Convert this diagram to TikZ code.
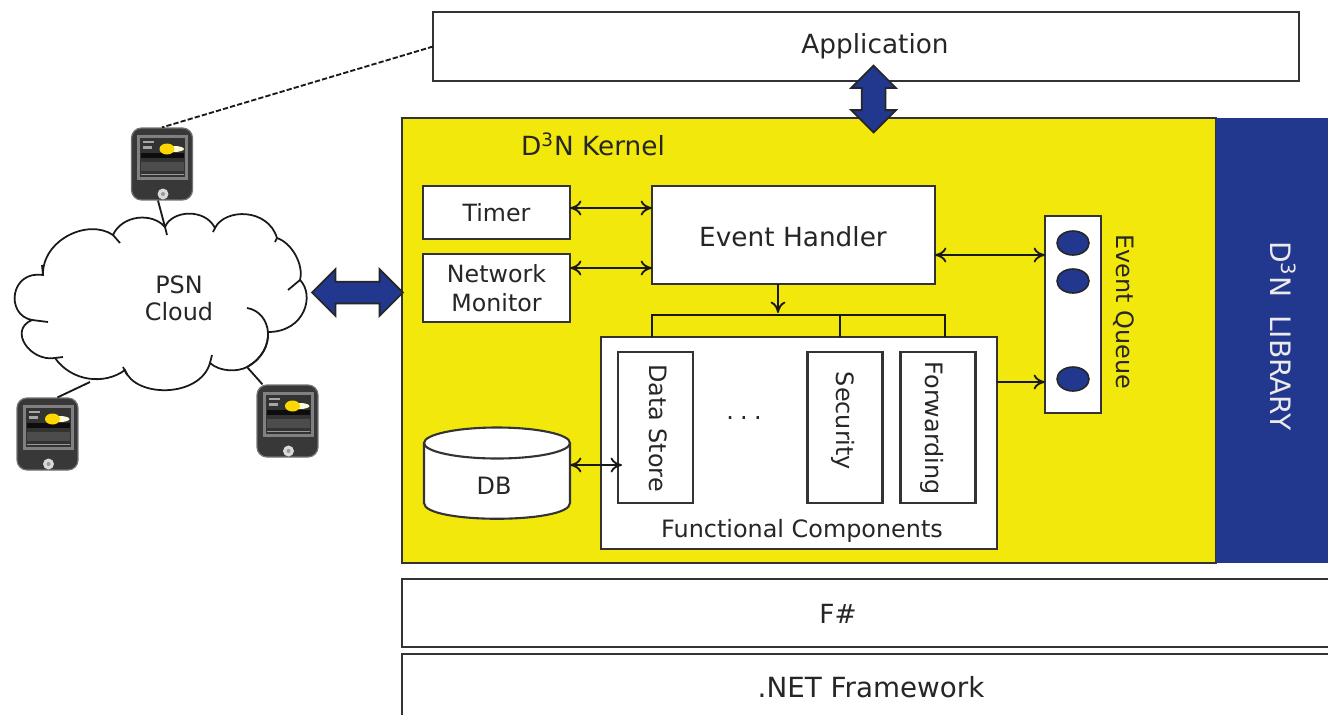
\documentclass[tikz,border=0pt]{standalone}
\usepackage{fontspec}
\setmainfont{DejaVu Sans}
\usetikzlibrary{shapes.geometric,shapes.arrows,arrows.meta}
\definecolor{kernelyellow}{HTML}{F2E80B}
\definecolor{librarynavy}{HTML}{22378E}
\tikzset{
	box/.style={draw=black!80, fill=white, line width=1.2pt, inner sep=0pt, outer sep=0pt, align=center, text=black!85, font=\fontsize{13.5}{16.5}\selectfont},
	strip/.style={box, rotate=-90, minimum width=3.02cm, minimum height=1.5cm},
	label/.style={inner sep=0pt, text=black!85, font=\fontsize{13.6}{16.5}\selectfont},
	biglabel/.style={label, font=\fontsize{15}{18}\selectfont},
	link/.style={line width=1.05pt, draw=black!90},
	cloudline/.style={line width=1pt, draw=black!90},
	fatarrow/.style={double arrow, draw=black!85, fill=librarynavy, line width=1pt, inner sep=0pt, outer sep=0pt},
	token/.style={ellipse, draw=black!85, fill=librarynavy, line width=0.9pt, minimum width=0.64cm, minimum height=0.48cm, inner sep=0pt}
}
\def\phone(#1)(#2,#3){
	\node[rectangle, rounded corners=0.2cm, fill=black!78, draw=black!55, line width=0.7pt, minimum width=1.22cm, minimum height=1.44cm, inner sep=0pt] (#1) at (#2,#3) {};
	\begin{scope}[shift={(#2,#3)}]
		\fill[black!50] (-25,-29) rectangle (26,16);
		\fill[black!80] (-22,-26) rectangle (23,13);
		\fill[black!95] (-21,-11) rectangle (22,-6);
		\fill[black!70] (-21,-2) rectangle (22,7);
		\fill[white!85!yellow] (12,-15) ellipse (10 and 3);
		\fill[yellow!75!orange] (5,-15) ellipse (7.5 and 5.5);
		\fill[black!40] (-21,10) rectangle (22,11);
		\fill[black!35] (-19,-23) rectangle (-8,-21);
		\fill[black!35] (-19,-18) rectangle (-10,-15);
		\fill[black!15] (1,30) circle (5.5);
		\fill[black!40] (1,30) circle (2);
	\end{scope}
}

\begin{document}
\begin{tikzpicture}[x=0.02cm, y=-0.02cm, >={Computer Modern Rightarrow[length=6.5pt,width=8.5pt]}]
	\useasboundingbox (0,0) rectangle (1328,714);

	% stack on the right
	\draw[box] (402,579) rectangle (1345,647);
	\draw[box] (402,654) rectangle (1345,730);
	\node[biglabel] (fsharp) at (838,614) {F\#};
	\node[biglabel, font=\fontsize{15.8}{18}\selectfont] (dotnet) at (871,687) {.NET Framework};

	\node[box, minimum width=17.32cm, minimum height=1.38cm] (application) at (866,46.5) {};
	\node[biglabel] (applabel) at (875,46) {Application};

	\node[rectangle, fill=kernelyellow, draw=black!80, line width=0.9pt, minimum width=16.28cm, minimum height=8.9cm, inner sep=0pt] (kernel) at (809,340.5) {};
	\node[rectangle, fill=librarynavy, minimum width=2.3cm, minimum height=8.9cm, inner sep=0pt] (library) at (1273,340.5) {};
	\node[biglabel, text=white!92!black, rotate=-90, font=\fontsize{16}{18}\selectfont] (librarylabel) at (1283,336) {D\textsuperscript{3}N~~LIBRARY};
	\node[biglabel] (kernellabel) at (593,144) {D\textsuperscript{3}N Kernel};

	% boxes inside the kernel
	\node[box, minimum width=2.94cm, minimum height=1.06cm] (timer) at (496.5,212.5) {Timer};
	\node[box, minimum width=2.94cm, minimum height=1.36cm] (monitor) at (496.5,288) {Network\\Monitor};
	\node[box, minimum width=5.66cm, minimum height=1.96cm] (handler) at (793.5,235) {};
	\node[biglabel] (handlerlabel) at (793,237) {Event Handler};
	\node[box, minimum width=1.12cm, minimum height=3.94cm] (queue) at (1073,314.5) {};
	\node[token] (tokena) at (1073,243) {};
	\node[token] (tokenb) at (1073,281) {};
	\node[token] (tokenc) at (1073,379) {};
	\node[label, rotate=-90] (queuelabel) at (1124,312) {Event Queue};

	\node[box, minimum width=7.92cm, minimum height=4.24cm] (func) at (799,443) {};
	\node[label] (funclabel) at (802,531) {Functional Components};
	\node[strip] (store) at (655.5,427.5) {};
	\node[label, rotate=-90] (storelabel) at (658,428) {Data Store};
	\node[strip] (security) at (845,427.5) {};
	\node[label, rotate=-90] (securitylabel) at (843,421) {Security};
	\node[strip] (forwarding) at (938,427.5) {};
	\node[label, rotate=-90] (forwardinglabel) at (932,428) {Forwarding};
	\node[label] (dots) at (744,418) {.\kern0.26em.\kern0.26em.};

	% database
	\draw[box] (424,443) -- (424,503) .. controls (424,524) and (570,524) .. (570,503) -- (570,443);
	\draw[box] (497,443) ellipse (73 and 15.5);
	\node[label] (dblabel) at (494,486) {DB};

	% arrows
	\draw[link, <->] ([yshift=0.09cm]timer.east) -- ([yshift=0.54cm]handler.west);
	\draw[link, <->] ([yshift=0.4cm]monitor.east) -- ([yshift=-0.66cm]handler.west);
	\draw[link, <->] ([yshift=-0.4cm]handler.east) -- ([yshift=1.19cm]queue.west);
	\draw[link, ->] ([yshift=1.22cm]func.east) -- ([yshift=-1.35cm]queue.west);

	\coordinate (busjoin) at (778,313);
	\coordinate (busleft) at (652,315);
	\coordinate (busmid) at (840,315);
	\coordinate (busright) at (945,315);
	\draw[link, ->] (handler.south -| busjoin) -- (busjoin);
	\draw[link] (busleft |- func.north) -- (busleft) -- (busright) -- (busright |- func.north);
	\draw[link] (busmid) -- (busmid |- func.north);

	\coordinate (dbport) at (570,465);
	\coordinate (storeport) at (622,465);
	\draw[link, <->] (dbport) -- (storeport);

	\node[fatarrow, minimum height=1.82cm, minimum width=0.9cm, double arrow head extend=0.25cm] (cloudarrow) at (357.5,292.5) {\rule{0pt}{0.4cm}};
	\node[fatarrow, rotate=90, minimum height=1.34cm, minimum width=0.86cm, double arrow head extend=0.21cm] (apparrow) at (873.5,99) {\rule{0pt}{0.44cm}};

	% cloud
	\draw[cloudline, fill=white] (43,275)
		.. controls (42,240) and (88,218) .. (113,235)
		.. controls (122,215) and (152,212) .. (165,227)
		.. controls (172,210) and (205,208) .. (215,228)
		.. controls (225,208) and (268,208) .. (277,238)
		.. controls (292,243) and (304,265) .. (300,280)
		.. controls (315,295) and (305,332) .. (268,332)
		.. controls (268.75,344.75) and (262.5,358.5) .. (247,367)
		.. controls (238,372) and (220,372) .. (210,363)
		.. controls (200,398) and (135,398) .. (125,370)
		.. controls (105,385) and (72,382) .. (55,358)
		.. controls (30,362) and (8,330) .. (32,320)
		.. controls (5,315) and (10,270) .. (43,275) -- cycle;
	\draw[cloudline] (113,235) -- (120,243);
	\draw[cloudline] (165,227) -- (167,235);
	\draw[cloudline] (215,228) -- (213,232);
	\draw[cloudline] (277,238) -- (275,242);
	\draw[cloudline] (300,280) -- (288,290);
	\draw[cloudline] (247,308) .. controls (272,312) and (278,350) .. (247,367);
	\draw[cloudline] (210,363) -- (212,355);
	\draw[cloudline] (123,367) -- (127,375);
	\draw[cloudline] (55,358) -- (63,357);
	\draw[cloudline] (32,320) -- (48,322);
	\draw[cloudline] (43,275) -- (42,265);
	\node[label, align=center, font=\fontsize{13.6}{15.6}\selectfont] (cloudlabel) at (179,298) {PSN\\Cloud};

	% devices
	\phone(phonetop)(162,164)
	\phone(phoneleft)(47.5,434)
	\phone(phoneright)(287.5,421)

	\coordinate (cloudtop) at (165,227);
	\coordinate (cloudleft) at (90,382);
	\coordinate (cloudright) at (247,367);
	\draw[link] ([xshift=-0.08cm]phonetop.south) -- (cloudtop);
	\draw[link] ([xshift=0.2cm]phoneleft.north) -- (cloudleft);
	\draw[link] ([xshift=-0.5cm]phoneright.north) -- (cloudright);
	\draw[link, dash pattern=on 3pt off 1.2pt] (application.west) -- (phonetop.north);
\end{tikzpicture}
\end{document}
